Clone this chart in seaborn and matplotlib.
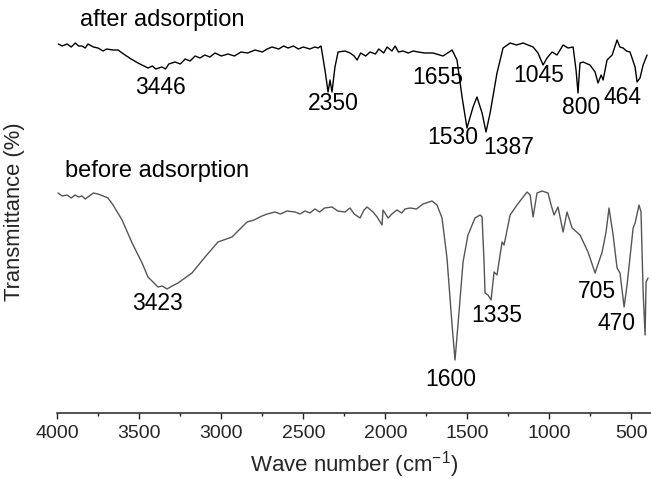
import matplotlib
matplotlib.use("Agg")
import matplotlib.pyplot as plt
import seaborn as sns
import pandas as pd
from matplotlib.ticker import MultipleLocator

# ---- data ----
after_wn = [3994, 3970, 3940, 3915, 3890, 3870, 3850, 3830, 3813, 3780, 3752, 3720, 3700, 3660,
            3630, 3587, 3550, 3508, 3447, 3420, 3400, 3362, 3340, 3320, 3282, 3250, 3220, 3190,
            3160, 3130, 3100, 3070, 3038, 3000, 2959, 2920, 2880, 2840, 2794, 2750, 2720, 2691,
            2650, 2620, 2593, 2560, 2530, 2500, 2460, 2430, 2410, 2392, 2368, 2349, 2337, 2325,
            2307, 2288, 2246, 2215, 2190, 2172, 2150, 2120, 2093, 2060, 2040, 2010, 1989, 1960,
            1940, 1920, 1892, 1860, 1830, 1800, 1760, 1709, 1648, 1593, 1563, 1532, 1502, 1465,
            1441, 1410, 1386, 1361, 1319, 1282, 1239, 1200, 1160, 1099, 1069, 1038, 1014, 983,
            953, 916, 886, 855, 837, 825, 813, 794, 752, 721, 703, 684, 672, 648, 617, 587, 570,
            550, 530, 508, 477, 465, 447, 428, 404]
after_t = [369, 367, 369, 366, 370, 367, 367, 365, 369, 366, 365, 362, 364, 363,
           363, 358, 354, 350, 345, 347, 344, 346, 344, 349, 351, 349, 354, 352,
           357, 355, 358, 356, 360, 357, 359, 357, 361, 360, 363, 361, 364, 366,
           364, 367, 365, 367, 364, 366, 364, 366, 365, 367, 343, 321, 333, 321,
           346, 361, 362, 360, 357, 353, 360, 357, 361, 359, 364, 360, 366, 362,
           367, 361, 362, 360, 362, 361, 360, 360, 357, 363, 353, 316, 285, 306,
           316, 300, 281, 300, 340, 365, 370, 368, 370, 366, 360, 348, 355, 361,
           358, 368, 365, 366, 343, 320, 350, 351, 348, 341, 330, 338, 333, 353, 358, 373, 366,
           365, 362, 361, 346, 331, 335, 348, 358]

before_wn = [3996, 3970, 3940, 3915, 3892, 3870, 3850, 3830, 3813, 3780, 3752, 3720, 3691, 3660,
             3605, 3544, 3483, 3447, 3386, 3360, 3331, 3300, 3264, 3179, 3099, 3020, 2935, 2843,
             2800, 2752, 2720, 2672, 2640, 2600, 2550, 2520, 2490, 2460, 2429, 2400, 2370, 2325,
             2290, 2246, 2215, 2190, 2154, 2130, 2111, 2075, 2050, 2020, 2014, 1983, 1960, 1929,
             1900, 1880, 1849, 1810, 1770, 1715, 1685, 1654, 1624, 1593, 1575, 1557, 1526, 1496,
             1453, 1422, 1410, 1398, 1392, 1374, 1355, 1337, 1319, 1288, 1276, 1239, 1197, 1136,
             1117, 1099, 1075, 1044, 1008, 989, 971, 947, 916, 892, 861, 813, 764, 721, 678, 654,
             636, 611, 587, 569, 544, 526, 489, 477, 453, 441, 428, 416, 410, 398]
before_t = [220, 217, 218, 215, 218, 216, 217, 214, 216, 220, 219, 217, 215, 208,
            193, 170, 150, 136, 126, 127, 124, 127, 130, 140, 156, 171, 176, 191,
            193, 197, 199, 201, 199, 202, 201, 199, 202, 200, 204, 201, 205, 206,
            202, 201, 205, 199, 195, 203, 206, 201, 196, 188, 203, 195, 199, 203,
            200, 204, 205, 204, 209, 212, 208, 195, 155, 88, 53, 88, 151, 178,
            195, 198, 196, 151, 120, 118, 113, 141, 138, 171, 168, 198, 208, 221,
            218, 196, 220, 222, 220, 208, 198, 206, 181, 201, 185, 178, 161, 140, 161, 181,
            205, 178, 145, 140, 106, 128, 185, 190, 208, 201, 121, 78, 131, 135]

after_peaks = ["3446", "2350", "1655", "1530", "1387", "1045", "800", "464"]
after_peak_x = [3368, 2319, 1678, 1587, 1245, 1063, 807, 556]
after_peak_y = [326, 309, 335, 276, 265, 337, 305, 315]

before_peaks = ["3423", "1600", "1335", "705", "470"]
before_peak_x = [3392, 1599, 1319, 709, 593]
before_peak_y = [110, 34, 98, 121, 89]

series_names = ["after adsorption", "before adsorption"]
series_label_x = [3860, 3953]
series_label_y = [393, 242]

xticks = [4000, 3500, 3000, 2500, 2000, 1500, 1000, 500]

# ---- style ----
sns.set_style("white")
plt.rcParams["font.family"] = ["Liberation Sans", "DejaVu Sans"]
plt.rcParams["mathtext.fontset"] = "custom"
plt.rcParams["mathtext.rm"] = "Liberation Sans"
plt.rcParams["mathtext.it"] = "Liberation Sans"

fig = plt.figure(figsize=(6.51, 4.79), dpi=100)
ax = fig.add_axes([57.3 / 651, (479 - 413) / 479, (651 - 57.3) / 651, 413 / 479])

df_after = pd.DataFrame({"wn": after_wn, "t": after_t})
df_before = pd.DataFrame({"wn": before_wn, "t": before_t})
sns.lineplot(data=df_after, x="wn", y="t", ax=ax, color="#000000", linewidth=1.0,
             sort=False, estimator=None)
sns.lineplot(data=df_before, x="wn", y="t", ax=ax, color="#555555", linewidth=1.0,
             sort=False, estimator=None)

ax.set_xlim(4000, 380)
ax.set_ylim(0, 413)

for s in ["top", "right", "left"]:
    ax.spines[s].set_visible(False)
ax.spines["bottom"].set_linewidth(1.1)
ax.spines["bottom"].set_color("#222222")

ax.set_xticks(xticks)
ax.set_xticklabels([str(v) for v in xticks])
ax.xaxis.set_minor_locator(MultipleLocator(250))
ax.tick_params(axis="x", which="major", direction="out", length=4.2, width=1.0,
               labelsize=14, pad=4.5, bottom=True, color="#222222")
ax.tick_params(axis="x", which="minor", direction="out", length=2.4, width=1.0,
               bottom=True, color="#222222")
ax.set_yticks([])

ax.set_xlabel("Wave number (cm$^{-1}$)", fontsize=16, labelpad=5)
ax.set_ylabel("Transmittance (%)", fontsize=15.8)
ax.yaxis.set_label_coords(-0.054, 0.487)

for txt, x, y in zip(after_peaks, after_peak_x, after_peak_y):
    ax.text(x, y, txt, fontsize=16.5, ha="center", va="center", color="black")
for txt, x, y in zip(before_peaks, before_peak_x, before_peak_y):
    ax.text(x, y, txt, fontsize=16.5, ha="center", va="center", color="black")
for txt, x, y in zip(series_names, series_label_x, series_label_y):
    ax.text(x, y, txt, fontsize=17, ha="left", va="center", color="black")

fig.savefig("out.png", dpi=100)
